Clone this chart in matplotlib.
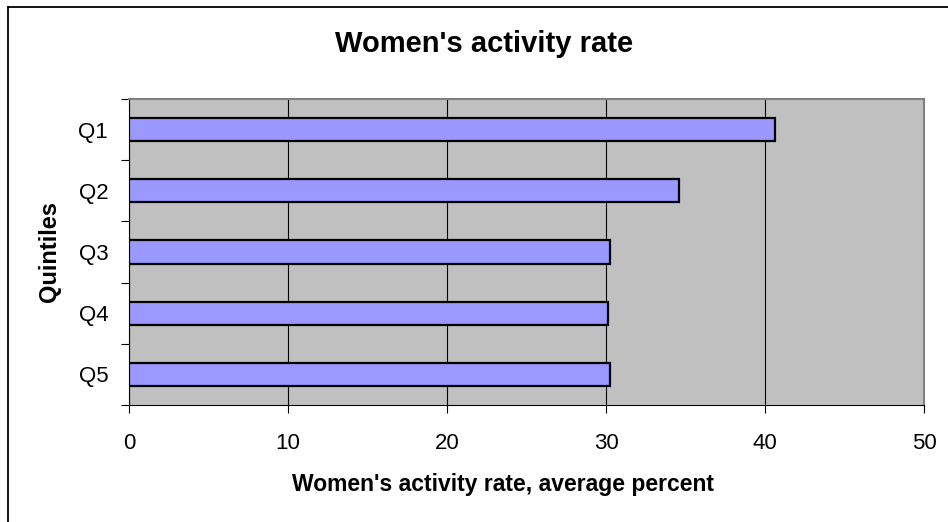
import matplotlib.pyplot as plt
from matplotlib.lines import Line2D

quintiles = ['Q1', 'Q2', 'Q3', 'Q4', 'Q5']
activity_rate = [40.6, 34.6, 30.25, 30.15, 30.25]

plt.rcParams['font.family'] = ['Liberation Sans', 'DejaVu Sans']

W, H = 948, 522
fig = plt.figure(figsize=(W / 100, H / 100), dpi=100)
ax = fig.add_axes([129 / W, 1 - 405 / H, (924 - 129) / W, (405 - 99) / H])

# chart border: only left and top edges fall inside the image
fig.lines.append(Line2D([8 / W, 8 / W], [0, 1 - 7 / H], transform=fig.transFigure, color='black', linewidth=1.3))
fig.lines.append(Line2D([8 / W, 1], [1 - 7 / H, 1 - 7 / H], transform=fig.transFigure, color='black', linewidth=1.3))

ypos = list(range(len(quintiles)))
ax.barh(ypos, activity_rate, height=0.38, color='#9999FF', edgecolor='black', linewidth=1.6, zorder=3)

ax.set_facecolor('#C0C0C0')
ax.set_xlim(0, 50)
ax.set_ylim(len(quintiles) - 0.5, -0.5)
ax.set_xticks([0, 10, 20, 30, 40, 50])
ax.set_yticks(ypos)
ax.set_yticklabels(quintiles)
ax.set_yticks([i - 0.5 for i in range(len(quintiles) + 1)], minor=True)
ax.grid(axis='x', color='black', linewidth=0.8, zorder=1)

ax.tick_params(axis='y', which='major', length=0, pad=15, labelsize=16)
ax.tick_params(axis='y', which='minor', length=6, width=0.8, direction='out')
ax.tick_params(axis='x', length=6, width=0.8, direction='out', pad=14, labelsize=16)

for side in ['top', 'right']:
    ax.spines[side].set_color('#808080')
    ax.spines[side].set_linewidth(1.5)
for side in ['left', 'bottom']:
    ax.spines[side].set_color('black')
    ax.spines[side].set_linewidth(0.8)

fig.text(503 / W, 1 - 485 / H, "Women's activity rate, average percent", ha='center', va='center',
         fontsize=16.5, fontweight='bold')
fig.text(50 / W, 1 - 251 / H, 'Quintiles', ha='center', va='center', rotation=90,
         fontsize=17, fontweight='bold')
fig.text(484 / W, 1 - 44 / H, "Women's activity rate", ha='center', va='center',
         fontsize=21, fontweight='bold')

fig.savefig('out.png', dpi=100)
